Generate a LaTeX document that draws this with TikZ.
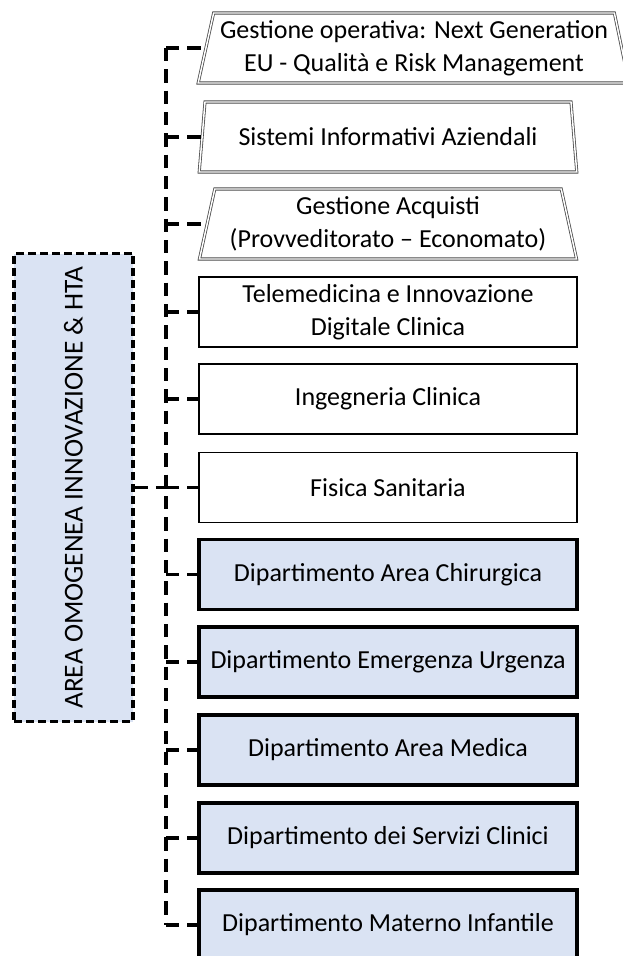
\documentclass[tikz,border=0pt]{standalone}
\usepackage{fontspec}
\usepackage{graphicx, xcolor}
\setmainfont{Carlito}
\usetikzlibrary{shapes.geometric}

\definecolor{areablue}{RGB}{218,227,243}
\newcommand{\boxfont}{\fontsize{19.5}{24.5}\selectfont}

\tikzset{
	trapbox/.style={trapezium, trapezium stretches=true, draw=gray!60!black, line width=0.6pt, double=white, double distance=1.1pt, minimum height=52.5pt, inner sep=0pt, align=center, font=\boxfont},
	whitebox/.style={rectangle, draw, line width=1.1pt, fill=white, minimum width=283.5pt, minimum height=52.5pt, inner sep=0pt, align=center, font=\boxfont},
	bluebox/.style={whitebox, fill=areablue, line width=2.6pt},
	areabox/.style={rectangle, draw, fill=areablue, line width=2.6pt, dash pattern=on 6pt off 3pt, minimum width=89pt, minimum height=351pt, inner sep=0pt, font=\fontsize{20.5}{24.5}\selectfont},
	link/.style={line width=2.6pt, dash pattern=on 10pt off 6pt}
}

\begin{document}
\begin{tikzpicture}[x=0.75pt, y=-0.75pt]
	\useasboundingbox (0,0) rectangle (622,956);
	
	\node[areabox] (area) at (73.5,487.5) {\rotatebox{90}{AREA OMOGENEA INNOVAZIONE \& HTA}};
	
	\node[trapbox, minimum width=324pt, trapezium left angle=74.8, trapezium right angle=75.6] (gest) at (414,48) {Gestione operativa: Next Generation\\EU - Qualità e Risk Management};
	\node[trapbox, minimum width=283.5pt, trapezium left angle=75.5, trapezium right angle=75.5] (sia) at (388,137) {Sistemi Informativi Aziendali};
	\node[trapbox, minimum width=283.5pt, trapezium left angle=75.5, trapezium right angle=75.5] (acq) at (388,224) {Gestione Acquisti\\(Provveditorato – Economato)};
	
	\foreach \name/\txt/\y in {tel/{Telemedicina e Innovazione\\Digitale Clinica}/312, ing/Ingegneria Clinica/399, fis/Fisica Sanitaria/487.5}
	{
		\node[whitebox] (\name) at (388,\y) {\txt};
	}
	\foreach \name/\txt/\y in {chir/Dipartimento Area Chirurgica/574.5, emu/Dipartimento Emergenza Urgenza/662, med/Dipartimento Area Medica/750, serv/Dipartimento dei Servizi Clinici/838, mat/Dipartimento Materno Infantile/925}
	{
		\node[bluebox] (\name) at (388,\y) {\txt};
	}
	
	\coordinate (trunktop) at (166,48);
	\coordinate (trunkbot) at (166,925);
	\draw[link] (trunktop) -- (trunkbot);
	\foreach \name in {gest,sia,acq,tel,ing,fis,chir,emu,med,serv,mat}
	{
		\draw[link] (\name.west -| trunktop) -- (\name.west);
	}
	\draw[link] (area.east) -- (area.east -| trunktop);
\end{tikzpicture}
\end{document}
